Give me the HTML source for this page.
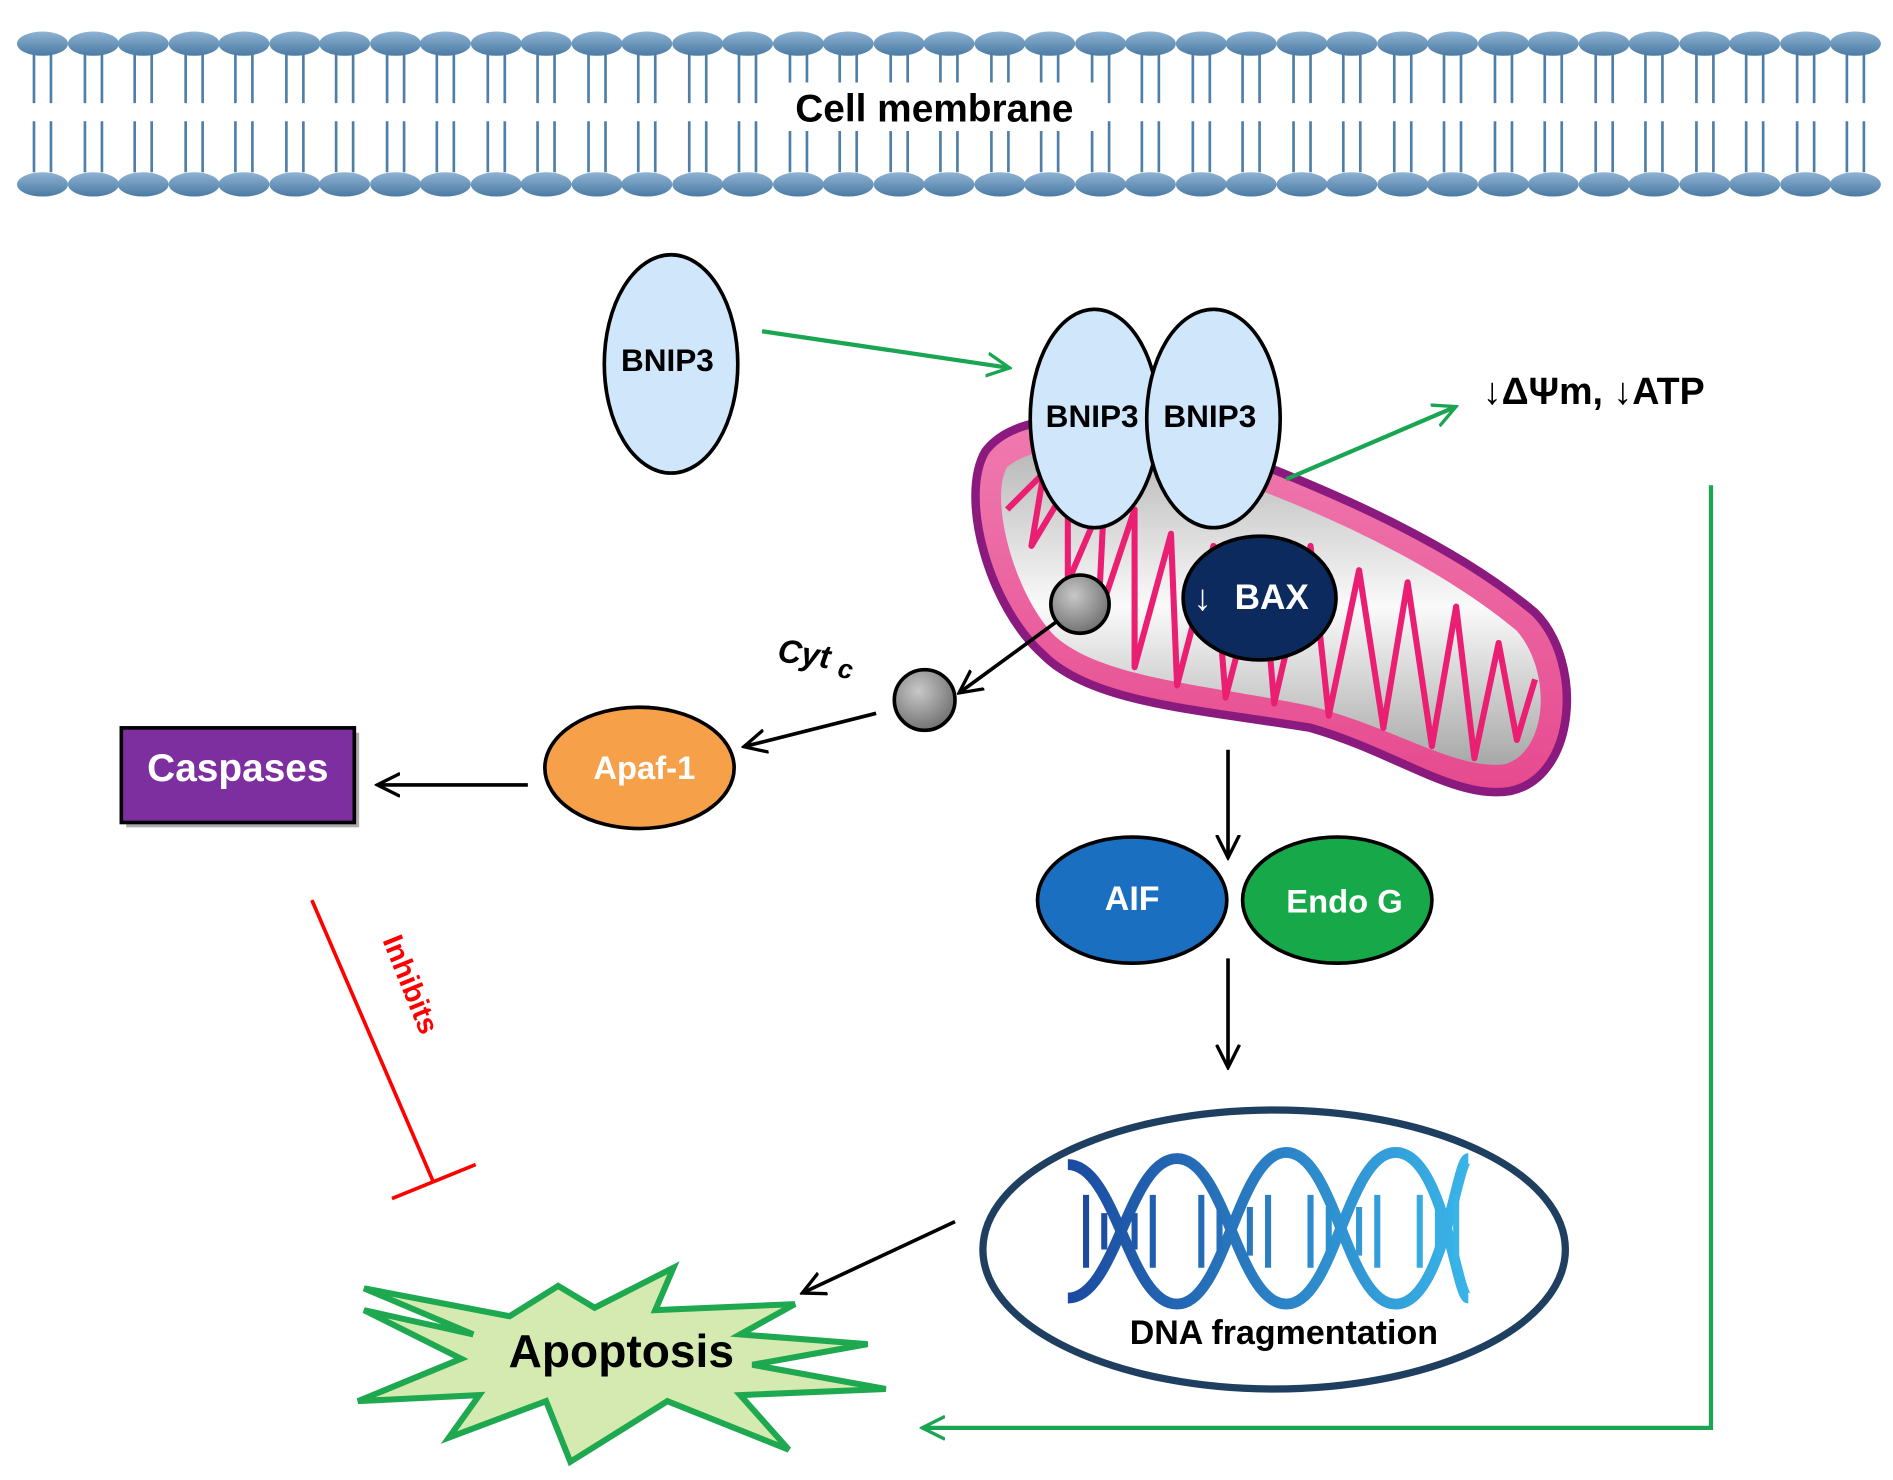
<!DOCTYPE html>
<html><head><meta charset="utf-8"><style>
html,body{margin:0;padding:0;background:#fff;}
svg{display:block;}
text{font-family:"Liberation Sans",Arial,sans-serif;font-weight:bold;}
</style></head><body>
<svg width="1893" height="1480" viewBox="0 0 1560 1220" preserveAspectRatio="none" xmlns="http://www.w3.org/2000/svg">
<defs>
<linearGradient id="head" x1="0" y1="0" x2="0" y2="1"><stop offset="0" stop-color="#8fb3d3"/><stop offset="1" stop-color="#4a7aa3"/></linearGradient>
<radialGradient id="gray" cx="0.4" cy="0.35" r="0.7"><stop offset="0" stop-color="#c8c8c8"/><stop offset="1" stop-color="#6d6d6d"/></radialGradient>
<linearGradient id="mito" x1="0" y1="0" x2="0" y2="1"><stop offset="0" stop-color="#f07ab0"/><stop offset="1" stop-color="#e64a8e"/></linearGradient>
<linearGradient id="inner" x1="0" y1="0" x2="0" y2="1"><stop offset="0" stop-color="#b8b8b8"/><stop offset=".5" stop-color="#fafafa"/><stop offset="1" stop-color="#a8a8a8"/></linearGradient>
<linearGradient id="dna" x1="0" y1="0" x2="1" y2="0"><stop offset="0" stop-color="#1b4aa0"/><stop offset="1" stop-color="#39b4e8"/></linearGradient>
<marker id="ab" markerWidth="7" markerHeight="7" refX="8" refY="5" orient="auto" markerUnits="strokeWidth" viewBox="0 0 10 10"><path d="M0,0.5 L9,5 L0,9.5" fill="none" stroke="#000" stroke-width="1.3"/></marker>
<marker id="ag" markerWidth="6" markerHeight="6" refX="8" refY="5" orient="auto" markerUnits="strokeWidth" viewBox="0 0 10 10"><path d="M0,0.5 L9,5 L0,9.5" fill="none" stroke="#1aa552" stroke-width="1.3"/></marker>
</defs>
<g stroke="#4f7fa8" stroke-width="2.2">
<path d="M28,45V85M42,45V85M70,45V85M84,45V85M111,45V85M125,45V85M153,45V85M167,45V85M194,45V85M208,45V85M236,45V85M250,45V85M277,45V85M291,45V85M319,45V85M333,45V85M360,45V85M374,45V85M402,45V85M416,45V85M443,45V85M457,45V85M485,45V85M499,45V85M526,45V85M540,45V85M568,45V85M582,45V85M609,45V85M623,45V85M651,45V85M665,45V85M692,45V85M706,45V85M734,45V85M748,45V85M775,45V85M789,45V85M817,45V85M831,45V85M858,45V85M872,45V85M900,45V85M914,45V85M941,45V85M955,45V85M983,45V85M997,45V85M1024,45V85M1038,45V85M1066,45V85M1080,45V85M1107,45V85M1121,45V85M1149,45V85M1163,45V85M1190,45V85M1204,45V85M1232,45V85M1246,45V85M1273,45V85M1287,45V85M1315,45V85M1329,45V85M1356,45V85M1370,45V85M1398,45V85M1412,45V85M1439,45V85M1453,45V85M1481,45V85M1495,45V85M1522,45V85M1536,45V85"/>
<path d="M28,100V142M42,100V142M70,100V142M84,100V142M111,100V142M125,100V142M153,100V142M167,100V142M194,100V142M208,100V142M236,100V142M250,100V142M277,100V142M291,100V142M319,100V142M333,100V142M360,100V142M374,100V142M402,100V142M416,100V142M443,100V142M457,100V142M485,100V142M499,100V142M526,100V142M540,100V142M568,100V142M582,100V142M609,100V142M623,100V142M651,100V142M665,100V142M692,100V142M706,100V142M734,100V142M748,100V142M775,100V142M789,100V142M817,100V142M831,100V142M858,100V142M872,100V142M900,100V142M914,100V142M941,100V142M955,100V142M983,100V142M997,100V142M1024,100V142M1038,100V142M1066,100V142M1080,100V142M1107,100V142M1121,100V142M1149,100V142M1163,100V142M1190,100V142M1204,100V142M1232,100V142M1246,100V142M1273,100V142M1287,100V142M1315,100V142M1329,100V142M1356,100V142M1370,100V142M1398,100V142M1412,100V142M1439,100V142M1453,100V142M1481,100V142M1495,100V142M1522,100V142M1536,100V142"/>
</g>
<g fill="url(#head)">
<ellipse cx="35" cy="36" rx="21" ry="10"/><ellipse cx="77" cy="36" rx="21" ry="10"/><ellipse cx="118" cy="36" rx="21" ry="10"/><ellipse cx="160" cy="36" rx="21" ry="10"/><ellipse cx="201" cy="36" rx="21" ry="10"/><ellipse cx="243" cy="36" rx="21" ry="10"/><ellipse cx="284" cy="36" rx="21" ry="10"/><ellipse cx="326" cy="36" rx="21" ry="10"/><ellipse cx="367" cy="36" rx="21" ry="10"/><ellipse cx="409" cy="36" rx="21" ry="10"/><ellipse cx="450" cy="36" rx="21" ry="10"/><ellipse cx="492" cy="36" rx="21" ry="10"/><ellipse cx="533" cy="36" rx="21" ry="10"/><ellipse cx="575" cy="36" rx="21" ry="10"/><ellipse cx="616" cy="36" rx="21" ry="10"/><ellipse cx="658" cy="36" rx="21" ry="10"/><ellipse cx="699" cy="36" rx="21" ry="10"/><ellipse cx="741" cy="36" rx="21" ry="10"/><ellipse cx="782" cy="36" rx="21" ry="10"/><ellipse cx="824" cy="36" rx="21" ry="10"/><ellipse cx="865" cy="36" rx="21" ry="10"/><ellipse cx="907" cy="36" rx="21" ry="10"/><ellipse cx="948" cy="36" rx="21" ry="10"/><ellipse cx="990" cy="36" rx="21" ry="10"/><ellipse cx="1031" cy="36" rx="21" ry="10"/><ellipse cx="1073" cy="36" rx="21" ry="10"/><ellipse cx="1114" cy="36" rx="21" ry="10"/><ellipse cx="1156" cy="36" rx="21" ry="10"/><ellipse cx="1197" cy="36" rx="21" ry="10"/><ellipse cx="1239" cy="36" rx="21" ry="10"/><ellipse cx="1280" cy="36" rx="21" ry="10"/><ellipse cx="1322" cy="36" rx="21" ry="10"/><ellipse cx="1363" cy="36" rx="21" ry="10"/><ellipse cx="1405" cy="36" rx="21" ry="10"/><ellipse cx="1446" cy="36" rx="21" ry="10"/><ellipse cx="1488" cy="36" rx="21" ry="10"/><ellipse cx="1529" cy="36" rx="21" ry="10"/>
<ellipse cx="35" cy="152" rx="21" ry="10"/><ellipse cx="77" cy="152" rx="21" ry="10"/><ellipse cx="118" cy="152" rx="21" ry="10"/><ellipse cx="160" cy="152" rx="21" ry="10"/><ellipse cx="201" cy="152" rx="21" ry="10"/><ellipse cx="243" cy="152" rx="21" ry="10"/><ellipse cx="284" cy="152" rx="21" ry="10"/><ellipse cx="326" cy="152" rx="21" ry="10"/><ellipse cx="367" cy="152" rx="21" ry="10"/><ellipse cx="409" cy="152" rx="21" ry="10"/><ellipse cx="450" cy="152" rx="21" ry="10"/><ellipse cx="492" cy="152" rx="21" ry="10"/><ellipse cx="533" cy="152" rx="21" ry="10"/><ellipse cx="575" cy="152" rx="21" ry="10"/><ellipse cx="616" cy="152" rx="21" ry="10"/><ellipse cx="658" cy="152" rx="21" ry="10"/><ellipse cx="699" cy="152" rx="21" ry="10"/><ellipse cx="741" cy="152" rx="21" ry="10"/><ellipse cx="782" cy="152" rx="21" ry="10"/><ellipse cx="824" cy="152" rx="21" ry="10"/><ellipse cx="865" cy="152" rx="21" ry="10"/><ellipse cx="907" cy="152" rx="21" ry="10"/><ellipse cx="948" cy="152" rx="21" ry="10"/><ellipse cx="990" cy="152" rx="21" ry="10"/><ellipse cx="1031" cy="152" rx="21" ry="10"/><ellipse cx="1073" cy="152" rx="21" ry="10"/><ellipse cx="1114" cy="152" rx="21" ry="10"/><ellipse cx="1156" cy="152" rx="21" ry="10"/><ellipse cx="1197" cy="152" rx="21" ry="10"/><ellipse cx="1239" cy="152" rx="21" ry="10"/><ellipse cx="1280" cy="152" rx="21" ry="10"/><ellipse cx="1322" cy="152" rx="21" ry="10"/><ellipse cx="1363" cy="152" rx="21" ry="10"/><ellipse cx="1405" cy="152" rx="21" ry="10"/><ellipse cx="1446" cy="152" rx="21" ry="10"/><ellipse cx="1488" cy="152" rx="21" ry="10"/><ellipse cx="1529" cy="152" rx="21" ry="10"/>
</g>
<rect x="636" y="68" width="270" height="40" fill="#fff"/>
<text x="770" y="100" font-size="32" text-anchor="middle">Cell membrane</text>

<path d="M812,372 C840,335 920,340 1000,368 C1100,405 1200,450 1265,505 C1305,545 1300,640 1245,652 C1200,660 1150,620 1080,600 C990,585 900,580 860,540 C815,500 790,410 812,372Z" fill="url(#mito)" stroke="#8a1a7e" stroke-width="7"/>
<path d="M830,385 C860,360 930,370 1000,390 C1100,425 1190,470 1250,520 C1280,555 1275,620 1240,630 C1200,635 1150,600 1080,582 C1000,565 910,560 870,525 C835,490 815,410 830,385Z" fill="url(#inner)"/>
<path d="M830,420 L860,390 L850,450 L880,400 L880,480 L910,410 L905,510 L935,420 L935,550 L965,440 L970,565 L1000,450 L1010,575 L1040,460 L1050,580 L1080,450 L1095,590 L1120,470 L1140,600 L1160,480 L1180,615 L1200,500 L1215,625 L1235,530 L1250,610 L1265,560" fill="none" stroke="#ea1f72" stroke-width="5" stroke-linejoin="round"/>

<ellipse cx="553" cy="300" rx="55" ry="90" fill="#cfe6fb" stroke="#000" stroke-width="3"/>
<text x="550" y="306" font-size="26" text-anchor="middle">BNIP3</text>
<ellipse cx="902" cy="345" rx="53" ry="90" fill="#cfe6fb" stroke="#000" stroke-width="3"/>
<ellipse cx="1000" cy="345" rx="55" ry="90" fill="#cfe6fb" stroke="#000" stroke-width="3"/>
<text x="900" y="352" font-size="26" text-anchor="middle">BNIP3</text>
<text x="997" y="352" font-size="26" text-anchor="middle">BNIP3</text>

<line x1="628" y1="273" x2="830" y2="303" stroke="#1aa552" stroke-width="3.5" marker-end="url(#ag)"/>
<line x1="1060" y1="395" x2="1198" y2="336" stroke="#1aa552" stroke-width="3.5" marker-end="url(#ag)"/>
<text x="1222" y="333" font-size="31">↓ΔΨm, ↓ATP</text>
<polyline points="1410,400 1410,1177 762,1177" fill="none" stroke="#1aa552" stroke-width="3.5" marker-end="url(#ag)"/>

<ellipse cx="1038" cy="493" rx="63" ry="51" fill="#0d2a5e" stroke="#000" stroke-width="3"/>
<text x="991" y="503" font-size="30" fill="#fff" text-anchor="middle" font-weight="normal">↓</text>
<text x="1048" y="502" font-size="29" fill="#fff" text-anchor="middle">BAX</text>

<circle cx="890" cy="498" r="24" fill="url(#gray)" stroke="#000" stroke-width="3"/>
<circle cx="762" cy="577" r="25" fill="url(#gray)" stroke="#000" stroke-width="3"/>
<line x1="870" y1="513" x2="792" y2="570" stroke="#000" stroke-width="3" marker-end="url(#ab)"/>
<text x="640" y="545" font-size="27" font-style="italic" transform="rotate(8 640 545)">Cyt <tspan font-size="22" dy="6">c</tspan></text>
<line x1="722" y1="588" x2="615" y2="615" stroke="#000" stroke-width="3" marker-end="url(#ab)"/>

<ellipse cx="527" cy="633" rx="78" ry="50" fill="#f7a04a" stroke="#000" stroke-width="3"/>
<text x="531" y="642" font-size="27" fill="#fff" text-anchor="middle">Apaf-1</text>
<line x1="435" y1="647" x2="313" y2="647" stroke="#000" stroke-width="3" marker-end="url(#ab)"/>
<rect x="104" y="604" width="192" height="78" fill="#333" opacity=".4"/>
<rect x="100" y="600" width="192" height="78" fill="#7d2fa0" stroke="#000" stroke-width="3"/>
<text x="196" y="644" font-size="32" fill="#fff" text-anchor="middle">Caspases</text>

<line x1="257" y1="742" x2="357" y2="974" stroke="#f00" stroke-width="3"/>
<line x1="323" y1="988" x2="392" y2="960" stroke="#f00" stroke-width="3"/>
<text x="0" y="0" font-size="24" fill="#f00" transform="translate(315,775) rotate(68)">Inhibits</text>

<line x1="1012" y1="618" x2="1012" y2="705" stroke="#000" stroke-width="3" marker-end="url(#ab)"/>
<ellipse cx="933" cy="742" rx="78" ry="52" fill="#1a6fc0" stroke="#000" stroke-width="3"/>
<text x="933" y="750" font-size="28" fill="#fff" text-anchor="middle">AIF</text>
<ellipse cx="1102" cy="742" rx="78" ry="52" fill="#17a84a" stroke="#000" stroke-width="3"/>
<text x="1108" y="752" font-size="27" fill="#fff" text-anchor="middle">Endo G</text>
<line x1="1012" y1="790" x2="1012" y2="878" stroke="#000" stroke-width="3" marker-end="url(#ab)"/>

<ellipse cx="1050" cy="1030" rx="240" ry="115" fill="#fff" stroke="#1e3f60" stroke-width="6"/>
<g fill="none" stroke="url(#dna)" stroke-width="9">
<path d="M880,960 C920,960 930,1075 970,1075 C1010,1075 1020,950 1060,950 C1100,950 1110,1075 1150,1075 C1190,1075 1200,955 1210,955"/>
<path d="M880,1070 C920,1070 930,955 970,955 C1010,955 1020,1075 1060,1075 C1100,1075 1110,950 1150,950 C1190,950 1200,1070 1210,1070"/>
</g>
<g stroke="url(#dna)" stroke-width="5">
<path d="M895,985V1045M910,1000V1030M935,1000V1030M950,985V1045M990,985V1045M1005,995V1035M1030,995V1035M1045,985V1045M1080,985V1045M1095,995V1035M1120,995V1035M1135,985V1045M1170,985V1045M1185,995V1035M1200,985V1045"/>
</g>
<text x="1058" y="1108" font-size="28" text-anchor="middle">DNA fragmentation</text>

<line x1="787" y1="1007" x2="663" y2="1065" stroke="#000" stroke-width="3" marker-end="url(#ab)"/>

<path d="M300,1062 L420,1085 L460,1060 L490,1078 L555,1045 L540,1080 L655,1075 L610,1100 L715,1108 L620,1125 L730,1145 L610,1150 L650,1195 L550,1155 L470,1205 L450,1155 L370,1185 L395,1150 L295,1155 L380,1120 L300,1080 L390,1100Z" fill="#d4eab0" stroke="#1ea850" stroke-width="5" stroke-linejoin="miter"/>
<text x="512" y="1127" font-size="38" text-anchor="middle">Apoptosis</text>
</svg>
</body></html>
